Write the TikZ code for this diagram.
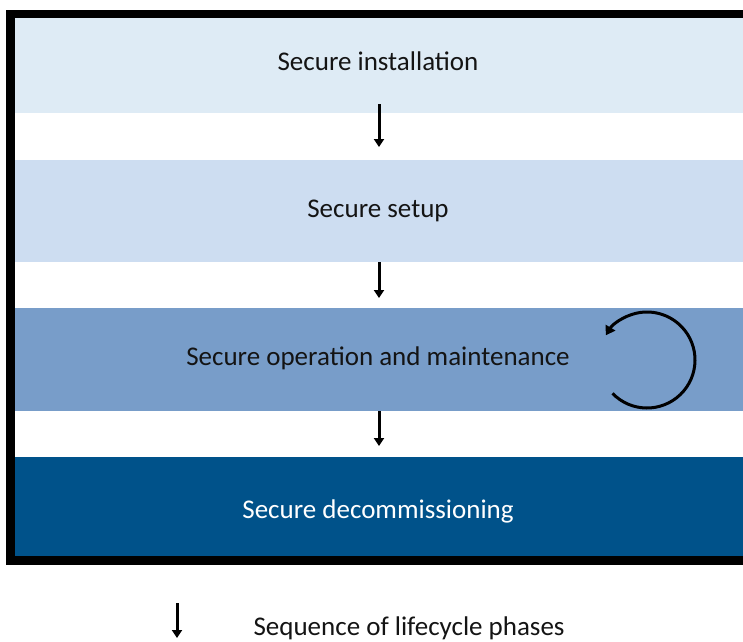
\documentclass[tikz,border=0pt]{standalone}
\usepackage{fontspec}
\setmainfont{Carlito}
\usetikzlibrary{arrows.meta}

\definecolor{phaseA}{HTML}{DEEBF5}
\definecolor{phaseB}{HTML}{CDDDF1}
\definecolor{phaseC}{HTML}{789DC9}
\definecolor{phaseD}{HTML}{00528A}
\definecolor{inktext}{HTML}{141414}

\tikzset{
  phase/.style={rectangle, inner sep=0pt, minimum width=740pt, anchor=north west},
  label/.style={font=\fontsize{27}{32}\selectfont, text=inktext},
  seqarrow/.style={line width=3pt, -{Triangle[length=8pt,width=10pt]}},
  cyclearrow/.style={line width=3pt, -{Triangle[length=9pt,width=11pt]}},
  frame/.style={draw=black, line width=8.5pt}
}

\begin{document}
\begin{tikzpicture}[x=1pt, y=-1pt]
  \useasboundingbox (0,0) rectangle (743,641);
  \begin{scope}
    \clip (0,0) rectangle (743,641);
    % lifecycle phase bands
    \node[phase, fill=phaseA, minimum height=95pt]  (b1) at (15,18)  {};
    \node[phase, fill=phaseB, minimum height=102pt] (b2) at (15,160) {};
    \node[phase, fill=phaseC, minimum height=103pt] (b3) at (15,308) {};
    \node[phase, fill=phaseD, minimum height=99pt]  (b4) at (15,457) {};
    % enclosing frame, open to the right
    \draw[frame] (10.5,14) rectangle (780,560.5);
  \end{scope}

  % phase labels
  \node[label] (t1) at (378,61)  {Secure installation};
  \node[label] (t2) at (378,211) {Secure setup};
  \node[label] (t3) at (378,358) {Secure operation and maintenance};
  \node[label, text=white] (t4) at (378,511) {Secure decommissioning};

  % sequence arrows between phases
  \coordinate (ax) at (379,0);
  \draw[seqarrow] ([yshift=9pt]b1.south -| ax) -- ([yshift=13pt]b2.north -| ax);
  \draw[seqarrow] (b2.south -| ax) -- ([yshift=10pt]b3.north -| ax);
  \draw[seqarrow] (b3.south -| ax) -- ([yshift=11pt]b4.north -| ax);

  % recurring cycle of operation and maintenance
  \coordinate (cc) at (647,360);
  \draw[cyclearrow] ([shift={(136:48)}]cc) arc[start angle=136, end angle=-149, radius=48];

  % legend
  \coordinate (la) at (177,603);
  \coordinate (lb) at (177,638);
  \draw[seqarrow] (la) -- (lb);
  \node[label, anchor=west] (lt) at (250,628) {Sequence of lifecycle phases};
\end{tikzpicture}
\end{document}
